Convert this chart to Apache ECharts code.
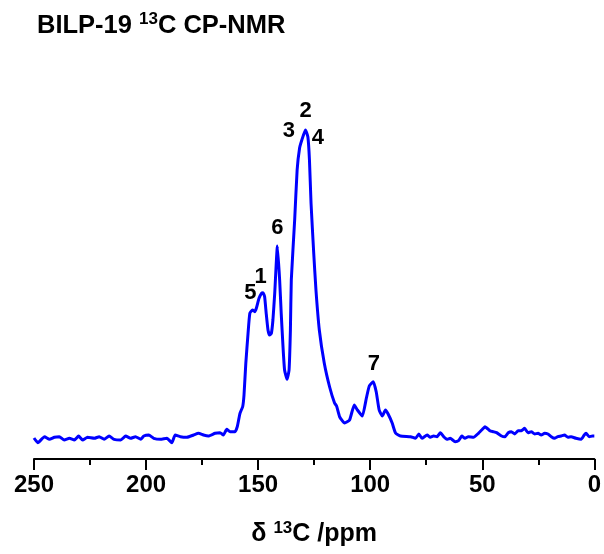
<!DOCTYPE html>
<html>
<head>
<meta charset="utf-8">
<script src="https://cdn.jsdelivr.net/npm/echarts@6/dist/echarts.min.js"></script>
<style>
html,body{margin:0;padding:0;background:#fff;}
#chart{width:604px;height:554px;}
</style>
</head>
<body>
<div id="chart"></div>
<script>
// Chemical shift (ppm) and intensity (arbitrary units)
const shiftPpm = [
 250.0,248.3,245.3,243.1,240.9,238.7,236.5,234.2,232.0,230.1,228.3,226.1,223.1,220.9,218.7,216.5,214.3,211.3,209.1,206.9,
 204.7,202.4,201.0,198.8,196.6,193.6,190.7,188.5,187.0,184.7,181.8,178.8,176.6,174.4,172.2,169.2,167.0,165.5,164.0,162.5,
 160.3,159.3,158.1,156.9,156.3,155.5,154.5,153.7,152.5,151.5,150.8,149.6,148.5,147.8,147.1,146.4,145.6,144.9,144.1,143.4,
 142.6,141.4,140.4,139.7,138.9,138.2,137.1,136.2,135.6,135.2,133.7,132.6,131.5,130.5,128.9,127.8,127.1,126.4,125.2,124.2,
 122.7,120.5,118.1,115.9,115.0,113.6,111.4,109.2,107.1,105.7,103.5,101.7,100.4,98.6,97.3,96.0,94.6,93.2,92.0,90.2,
 88.7,86.5,82.0,79.8,78.3,76.9,74.6,73.2,71.7,70.2,68.7,67.2,65.8,64.3,62.1,60.6,59.1,57.7,56.2,53.9,
 51.7,49.5,48.8,46.6,45.1,43.6,41.4,39.9,38.4,37.0,35.5,34.0,32.5,31.1,29.6,28.1,26.6,25.1,23.7,22.2,
 20.7,19.2,17.8,16.3,14.8,13.3,11.8,10.4,8.2,5.9,4.5,3.7,2.3,0.8,0.0
];
const intensity = [
 21.0,16.3,22.3,19.7,21.7,22.3,19.0,20.7,19.0,23.0,19.0,21.7,20.7,22.3,19.7,23.0,19.7,19.0,23.0,20.7,
 22.3,19.7,23.0,24.0,20.7,19.7,20.7,16.3,24.0,22.3,21.7,24.0,25.7,24.0,23.0,25.7,26.3,24.0,29.7,27.3,
 27.3,32.3,45.7,52.3,64.0,95.7,125.7,145.7,149.0,147.3,150.7,160.7,165.7,166.3,162.3,145.7,129.0,124.0,125.7,139.0,
 165.7,213.0,179.0,145.7,112.3,89.0,79.7,89.0,129.0,179.0,239.0,289.0,311.0,319.0,329.0,322.0,299.0,256.0,206.0,169.0,
 129.0,96.0,72.0,56.0,53.0,42.0,36.0,39.0,54.0,49.0,43.0,61.0,73.0,77.3,67.0,49.0,43.0,49.0,45.0,36.0,
 26.0,23.0,22.3,20.7,25.0,20.7,24.0,21.7,23.0,22.3,26.3,22.3,19.7,20.7,17.3,18.3,23.0,20.7,22.3,21.7,
 25.7,30.7,32.3,28.3,27.3,26.3,23.0,22.3,26.3,27.3,25.0,28.3,28.3,30.7,26.3,27.3,25.0,25.7,24.0,25.7,
 25.0,22.3,20.7,22.3,23.0,24.0,21.7,22.3,20.7,19.7,24.0,25.7,22.3,23.0,23.0
];
// Peak assignment labels
const peakNames = ['2','3','4','6','1','5','7'];
const peakPpm = [128.8,136.3,123.4,141.4,148.9,153.5,98.4];
const peakHeight = [348.5,328.2,321.0,231.0,182.5,165.7,94.7];
// Axis ticks
const xMin = 0, xMax = 250, xStep = 50;

const FONT = '"Liberation Sans", Arial, Helvetica, sans-serif';
const spectrum = shiftPpm.map((p, i) => [p, intensity[i]]);
const peaks = peakNames.map((n, i) => ({name: n, value: [peakPpm[i], peakHeight[i]]}));

const chart = echarts.init(document.getElementById('chart'), null, {renderer: 'canvas'});
chart.setOption({
  animation: false,
  backgroundColor: '#fff',
  title: {
    text: '{b|BILP-19 }{s|13}{b|C CP-NMR}',
    left: 32, top: 6,
    textStyle: {
      rich: {
        b: {fontSize: 25.5, fontWeight: 'bold', color: '#000', fontFamily: FONT, lineHeight: 29},
        s: {fontSize: 17, fontWeight: 'bold', color: '#000', fontFamily: FONT, lineHeight: 15, verticalAlign: 'top'}
      }
    }
  },
  grid: {left: 34, right: 6.5, top: 109, bottom: 95, containLabel: false},
  xAxis: {
    type: 'value', inverse: true, min: xMin, max: xMax, interval: xStep,
    axisLine: {show: true, lineStyle: {color: '#000', width: 2}},
    axisTick: {show: true, inside: false, length: 11, lineStyle: {color: '#000', width: 2}},
    minorTick: {show: true, splitNumber: 2, length: 6, lineStyle: {color: '#000', width: 2}},
    splitLine: {show: false},
    axisLabel: {fontSize: 24, fontWeight: 'bold', color: '#000', fontFamily: FONT, margin: 14},
    name: '{d|δ }{s|13}{d|C /ppm}',
    nameLocation: 'middle', nameGap: 61,
    nameTextStyle: {
      rich: {
        d: {fontSize: 25, fontWeight: 'bold', color: '#000', fontFamily: FONT, lineHeight: 29},
        s: {fontSize: 17, fontWeight: 'bold', color: '#000', fontFamily: FONT, lineHeight: 15, verticalAlign: 'top'}
      }
    }
  },
  yAxis: {type: 'value', min: 0, max: 350, show: false},
  series: [
    {
      type: 'line', data: spectrum, showSymbol: false, smooth: 0.15,
      lineStyle: {color: '#0000ff', width: 3}, itemStyle: {color: '#0000ff'}
    },
    {
      type: 'scatter', data: peaks, symbolSize: 1,
      itemStyle: {color: 'rgba(0,0,0,0)', opacity: 1},
      label: {show: true, position: 'inside', formatter: '{b}', fontSize: 22, fontWeight: 'bold', color: '#000', opacity: 1, fontFamily: FONT}
    }
  ]
});
</script>
</body>
</html>
